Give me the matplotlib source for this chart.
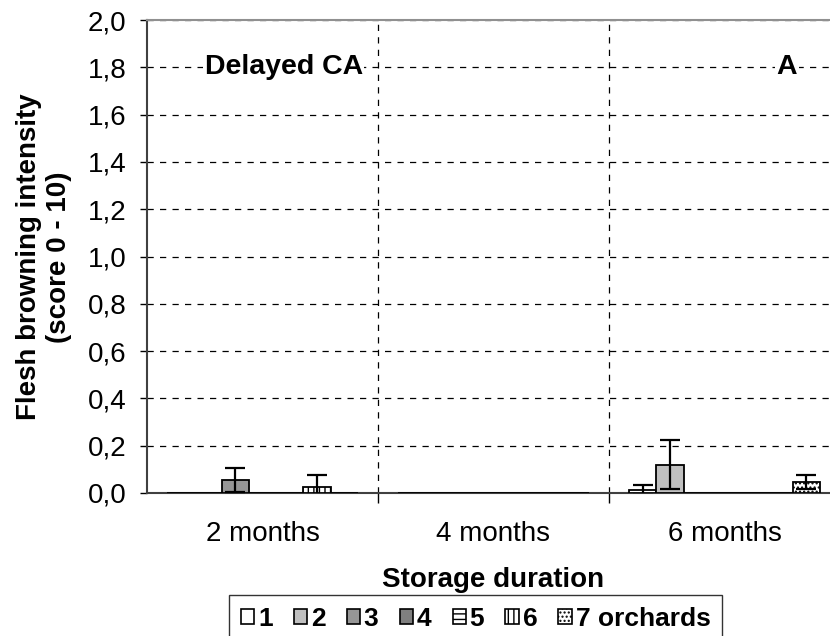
import matplotlib.pyplot as plt
import numpy as np
from matplotlib.patches import Patch

plt.rcParams['font.family'] = ['Liberation Sans', 'DejaVu Sans']
plt.rcParams['hatch.linewidth'] = 1.0

months = ["2 months", "4 months", "6 months"]
orchards = ["1", "2", "3", "4", "5", "6", "7 orchards"]

# browning score per orchard (rows) for each storage duration (columns)
values = [
    [0.0, 0.0, 0.012],
    [0.0, 0.0, 0.12],
    [0.055, 0.0, 0.0],
    [0.0, 0.0, 0.0],
    [0.0, 0.0, 0.0],
    [0.027, 0.0, 0.0],
    [0.0, 0.0, 0.047],
]
errors = [
    [0.0, 0.0, 0.022],
    [0.0, 0.0, 0.105],
    [0.05, 0.0, 0.0],
    [0.0, 0.0, 0.0],
    [0.0, 0.0, 0.0],
    [0.05, 0.0, 0.0],
    [0.0, 0.0, 0.03],
]

colors = ["white", "#c0c0c0", "#969696", "#7f7f7f", "white", "white", "white"]
hatches = [None, None, None, None, "---", "|||", "...."]

fig = plt.figure(figsize=(8.3, 6.36), dpi=100)
ax = fig.add_axes([147 / 830, 143 / 636, 693 / 830, 473 / 636])

x = np.arange(len(months))
w = 0.118
for i in range(len(orchards)):
    pos = x + (i - 3) * w
    ax.bar(pos, values[i], w, color=colors[i], edgecolor="black",
           linewidth=1.3, hatch=hatches[i], zorder=3)
    v = np.array(values[i])
    e = np.array(errors[i])
    m = e > 0
    ax.errorbar(pos[m], v[m], yerr=e[m], fmt="none", ecolor="black",
                elinewidth=1.6, capsize=7, capthick=1.6, zorder=4)

ax.set_xlim(-0.5, 2.5)
ax.set_ylim(0, 2.0)
ticks = np.arange(0, 2.01, 0.2)
ax.set_yticks(ticks)
ax.set_yticklabels([("%.1f" % t).replace(".", ",") for t in ticks])
ax.set_xticks(x)
ax.set_xticklabels(months)
ax.set_xticks([0.5, 1.5], minor=True)
ax.tick_params(axis="x", which="major", length=0, pad=20, labelsize=20)
ax.tick_params(axis="x", which="minor", length=7, width=1, direction="out")
ax.tick_params(axis="y", length=5, width=1, pad=10, labelsize=20)

ax.grid(axis="y", color="black", linestyle=(0, (5, 5)), linewidth=0.9, zorder=1)
ax.grid(axis="x", which="minor", color="black", linestyle=(0, (5, 5)), linewidth=0.9, zorder=1)
ax.set_axisbelow(True)
for s in ax.spines.values():
    s.set_color("#909090")
    s.set_linewidth(1.5)
ax.spines["left"].set_color("#404040")
ax.spines["bottom"].set_color("#404040")

ax.text(-0.25, 1.8, "Delayed CA", fontsize=20.5, fontweight="bold", va="center",
        ha="left", bbox=dict(facecolor="white", edgecolor="none", pad=1), zorder=5)
ax.text(2.27, 1.8, "A", fontsize=20.5, fontweight="bold", va="center",
        ha="center", bbox=dict(facecolor="white", edgecolor="none", pad=1), zorder=5)

fig.text(44 / 830, 1 - 257 / 636, "Flesh browning intensity\n(score 0 - 10)",
         rotation=90, ha="center", va="center", fontsize=20, fontweight="bold",
         multialignment="center")
fig.text(493 / 830, 1 - 580 / 636, "Storage duration", ha="center", va="center",
         fontsize=20, fontweight="bold")

handles = [Patch(facecolor=colors[i], edgecolor="black", hatch=hatches[i], linewidth=1.2)
           for i in range(len(orchards))]
leg = fig.legend(handles, orchards, loc="upper left", bbox_to_anchor=(229 / 830, 1 - 595 / 636),
                 ncol=7, frameon=True, fancybox=False, prop={"weight": "bold", "size": 19},
                 handlelength=0.5, handleheight=0.5, handletextpad=0.15,
                 columnspacing=0.8, borderpad=0.45, borderaxespad=0)
leg.get_frame().set_edgecolor("black")
leg.get_frame().set_linewidth(1.0)

plt.savefig("out.png", dpi=100)
